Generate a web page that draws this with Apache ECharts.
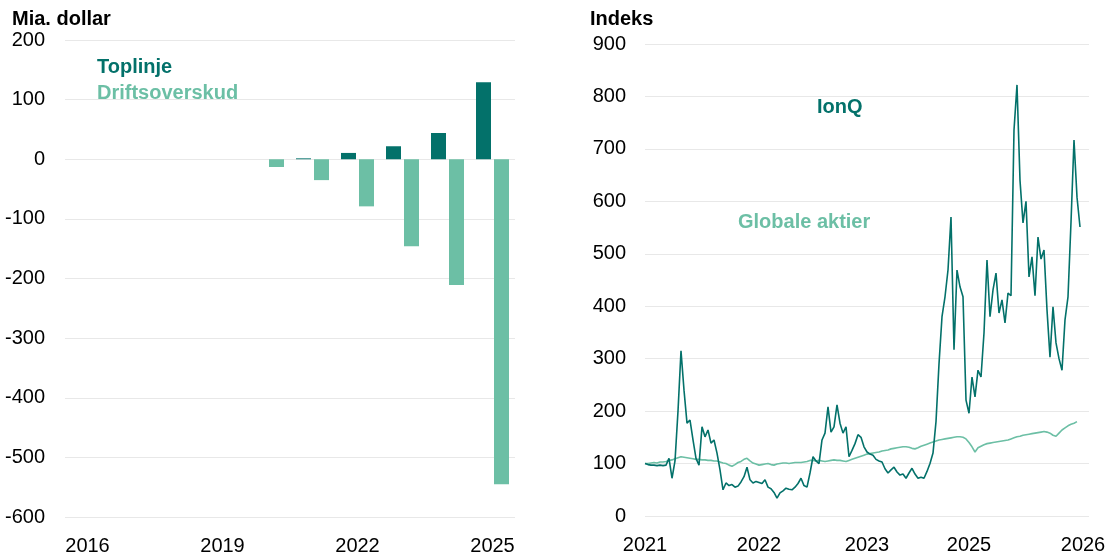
<!DOCTYPE html>
<html><head><meta charset="utf-8">
<script src="https://cdn.jsdelivr.net/npm/echarts@6/dist/echarts.min.js"></script>
<style>html,body{margin:0;padding:0;background:#fff}#c{width:1120px;height:558px}</style>
</head><body><div id="c"></div>
<script>
// Left chart data
const barYears = ['2016','2017','2018','2019','2020','2021','2022','2023','2024','2025'];
const toplinje = [null,null,null,null,null,1.5,10.6,21.8,44,129];
const driftsoverskud = [null,null,null,null,-13,-35,-79,-146,-211,-545];

// Right chart data (index points, ~weekly)
const ionq = [100,98,97,97,96,97,96,97,110,72,105,200,315,240,177,183,145,110,97,170,151,164,139,145,120,88,50,63,58,60,55,57,65,75,93,69,63,66,64,62,69,55,52,45,34,44,48,53,51,50,55,62,72,58,55,82,113,105,100,145,158,208,160,170,212,177,158,170,113,125,138,155,150,132,122,118,116,108,105,103,90,82,88,93,84,78,80,72,82,91,80,72,74,72,85,100,120,180,290,380,418,469,570,317,469,437,418,221,196,265,227,278,265,349,488,380,431,463,387,412,368,425,420,736,822,640,559,600,456,494,420,532,490,507,393,303,399,330,300,278,374,418,560,717,608,551];
const globale = [100,100,101,102,101,103,103,104,106,107,109,111,113,112,111,110,109,108,108,107,107,106,106,105,105,103,101,100,97,95,98,102,104,108,110,105,101,99,97,98,99,100,98,97,99,100,101,101,100,101,102,102,102,103,104,106,106,105,106,105,104,105,106,107,106,106,105,104,106,108,110,112,114,116,118,119,120,121,122,124,125,126,128,129,130,131,132,132,131,129,128,130,133,135,137,139,141,143,145,146,147,148,149,150,151,151,150,147,140,132,122,130,133,136,138,139,140,141,142,143,144,145,147,149,151,152,154,155,156,157,158,159,160,161,160,158,154,152,158,164,168,172,175,177,180];
const lineCatCount = 149;
const lineTickIdx = [0,38,74,108,146];
const lineTickLabels = ['2021','2022','2023','2025','2026'];

const DARK = '#03716a', LIGHT = '#6cbfa5', GRID = '#e8e8e8';
const FONT = 'Liberation Sans';
const lineCats = Array.from({length: lineCatCount}, (_, i) => String(i));
const pad = arr => arr.concat(Array(lineCatCount - arr.length).fill(null));

const chart = echarts.init(document.getElementById('c'), null, {renderer: 'canvas'});
chart.setOption({
  animation: false,
  textStyle: {fontFamily: FONT},
  title: [
    {text: 'Mia. dollar', left: 7, top: 4, textStyle: {fontFamily: FONT, fontSize: 20, fontWeight: 'bold', color: '#000'}},
    {text: 'Indeks', left: 585, top: 4, textStyle: {fontFamily: FONT, fontSize: 20, fontWeight: 'bold', color: '#000'}}
  ],
  grid: [
    {left: 65, right: 605, top: 40, bottom: 41},
    {left: 645, right: 31, top: 44, bottom: 42}
  ],
  xAxis: [
    {type: 'category', gridIndex: 0, data: barYears,
     axisLine: {show: false}, axisTick: {show: false},
     axisLabel: {interval: 2, color: '#000', fontSize: 20, margin: 19, fontFamily: FONT}},
    {type: 'category', gridIndex: 1, data: lineCats, boundaryGap: false,
     axisLine: {show: false}, axisTick: {show: false},
     axisLabel: {interval: (i) => lineTickIdx.includes(i), color: '#000', fontSize: 20, margin: 19, fontFamily: FONT,
       formatter: (v, i) => lineTickLabels[lineTickIdx.indexOf(Number(v))] || ''}}
  ],
  yAxis: [
    {type: 'value', gridIndex: 0, min: -600, max: 200, interval: 100,
     axisLine: {show: false}, axisTick: {show: false},
     splitLine: {lineStyle: {color: GRID, width: 1}},
     axisLabel: {color: '#000', fontSize: 20, margin: 20, fontFamily: FONT}},
    {type: 'value', gridIndex: 1, min: 0, max: 900, interval: 100,
     axisLine: {show: false}, axisTick: {show: false},
     splitLine: {lineStyle: {color: GRID, width: 1}},
     axisLabel: {color: '#000', fontSize: 20, margin: 19, fontFamily: FONT}}
  ],
  series: [
    {name: 'Toplinje', type: 'bar', xAxisIndex: 0, yAxisIndex: 0, data: toplinje,
     barWidth: 15, barGap: '20%', itemStyle: {color: DARK}},
    {name: 'Driftsoverskud', type: 'bar', xAxisIndex: 0, yAxisIndex: 0, data: driftsoverskud,
     barWidth: 15, barGap: '20%', itemStyle: {color: LIGHT}},
    {name: 'Globale aktier', type: 'line', xAxisIndex: 1, yAxisIndex: 1, data: pad(globale),
     showSymbol: false, lineStyle: {color: LIGHT, width: 1.6}, z: 2},
    {name: 'IonQ', type: 'line', xAxisIndex: 1, yAxisIndex: 1, data: pad(ionq),
     showSymbol: false, lineStyle: {color: DARK, width: 1.6}, z: 3}
  ],
  graphic: [
    {type: 'text', left: 97, top: 57, style: {text: 'Toplinje', fill: DARK, font: 'bold 20px "Liberation Sans"'}},
    {type: 'text', left: 97, top: 83, style: {text: 'Driftsoverskud', fill: LIGHT, font: 'bold 20px "Liberation Sans"'}},
    {type: 'text', left: 817, top: 97, style: {text: 'IonQ', fill: DARK, font: 'bold 20px "Liberation Sans"'}},
    {type: 'text', left: 738, top: 212, style: {text: 'Globale aktier', fill: LIGHT, font: 'bold 20px "Liberation Sans"'}}
  ]
});
</script></body></html>
